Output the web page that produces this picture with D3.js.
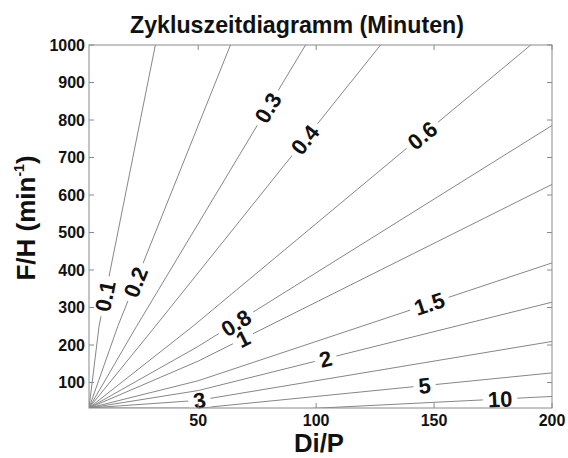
<!DOCTYPE html>
<html>
<head>
<meta charset="utf-8">
<script src="https://cdn.jsdelivr.net/npm/d3@7/dist/d3.min.js"></script>
<style>
  html, body { margin: 0; padding: 0; background: #fff; }
  svg { display: block; font-family: "Liberation Sans", Arial, Helvetica, sans-serif; }
</style>
</head>
<body>
<svg id="chart" width="568" height="458"></svg>
<script>
// Cycle time t = π · (Di/P) / (F/H), drawn as iso-lines of constant t
const levels = [0.1, 0.2, 0.3, 0.4, 0.6, 0.8, 1, 1.5, 2, 3, 5, 10];
const levelLabels = ["0.1", "0.2", "0.3", "0.4", "0.6", "0.8", "1", "1.5", "2", "3", "5", "10"];
// Di/P value at which each level's inline label sits
const labelAtX = [10.5, 23.4, 79.5, 95.2, 145, 66, 69, 148, 104, 50.5, 146, 178];

const xTicks = [50, 100, 150, 200];
const yTicks = [100, 200, 300, 400, 500, 600, 700, 800, 900, 1000];
const xDomain = [3.7, 200];
const yDomain = [32, 1000];

const title = "Zykluszeitdiagramm (Minuten)";
const xLabel = "Di/P";

const svg = d3.select("#chart");
const plotL = 89, plotR = 552, plotT = 45, plotB = 408;

const x = d3.scaleLinear().domain(xDomain).range([plotL, plotR]);
const y = d3.scaleLinear().domain(yDomain).range([plotB, plotT]);
const cycleY = (xv, t) => Math.PI * xv / t;
const cycleX = (yv, t) => t * yv / Math.PI;

const defs = svg.append("defs");
defs.append("clipPath").attr("id", "plotClip")
  .append("rect").attr("x", plotL).attr("y", plotT)
  .attr("width", plotR - plotL).attr("height", plotB - plotT);

const mask = defs.append("mask").attr("id", "labelGaps")
  .attr("maskUnits", "userSpaceOnUse")
  .attr("x", 0).attr("y", 0).attr("width", 568).attr("height", 458);
mask.append("rect").attr("x", 0).attr("y", 0).attr("width", 568).attr("height", 458).attr("fill", "#fff");

// Each iso-line: from the grid's first node, through the fan, out to the frame edge
function isoPoints(t) {
  const yAtRight = cycleY(xDomain[1], t);
  const end = yAtRight > yDomain[1] ? [cycleX(yDomain[1], t), yDomain[1]] : [xDomain[1], yAtRight];
  const bend = [end[0] * 0.25, end[1] * 0.25];
  return [[xDomain[0], yDomain[0]], bend, end];
}

const line = d3.line().x(d => x(d[0])).y(d => y(d[1]));
const lineG = svg.append("g").attr("clip-path", "url(#plotClip)")
  .append("g").attr("mask", "url(#labelGaps)");
lineG.selectAll("path").data(levels).join("path")
  .attr("d", t => line(isoPoints(t)))
  .attr("fill", "none")
  .attr("stroke", "#868686")
  .attr("stroke-width", 1);

// Inline labels rotated along their line
const labelData = levels.map((t, i) => {
  const x0 = x(0), y0 = y(0);
  const x1 = x(xDomain[1]), y1 = y(cycleY(xDomain[1], t));
  const ang = Math.atan2(y1 - y0, x1 - x0) * 180 / Math.PI;
  const lx = labelAtX[i];
  return { t, text: levelLabels[i], px: x(lx), py: y(cycleY(lx, t)), ang };
});

const labels = svg.append("g").selectAll("text").data(labelData).join("text")
  .attr("transform", d => `translate(${d.px},${d.py}) rotate(${d.ang})`)
  .attr("text-anchor", "middle")
  .attr("dy", "0.36em")
  .attr("font-size", 22)
  .attr("font-weight", "bold")
  .attr("fill", "#111")
  .text(d => d.text);

labels.each(function(d) {
  const w = this.getComputedTextLength();
  mask.append("rect")
    .attr("transform", `translate(${d.px},${d.py}) rotate(${d.ang})`)
    .attr("x", -w / 2 - 5).attr("y", -8)
    .attr("width", w + 10).attr("height", 16)
    .attr("fill", "#000");
});

// Box and inward ticks
const axisColor = "#8a8a8a";
const tickLen = 5;
svg.append("rect").attr("x", plotL).attr("y", plotT)
  .attr("width", plotR - plotL).attr("height", plotB - plotT)
  .attr("fill", "none").attr("stroke", axisColor).attr("stroke-width", 1);

const tickG = svg.append("g").attr("stroke", axisColor).attr("stroke-width", 1);
xTicks.forEach(v => {
  tickG.append("line").attr("x1", x(v)).attr("x2", x(v)).attr("y1", plotB).attr("y2", plotB - tickLen);
  tickG.append("line").attr("x1", x(v)).attr("x2", x(v)).attr("y1", plotT).attr("y2", plotT + tickLen);
});
yTicks.forEach(v => {
  tickG.append("line").attr("x1", plotL).attr("x2", plotL + tickLen).attr("y1", y(v)).attr("y2", y(v));
  tickG.append("line").attr("x1", plotR).attr("x2", plotR - tickLen).attr("y1", y(v)).attr("y2", y(v));
});

// Tick labels
svg.append("g").selectAll("text").data(xTicks).join("text")
  .attr("x", d => x(d)).attr("y", plotB + 18)
  .attr("text-anchor", "middle")
  .attr("font-size", 16).attr("font-weight", "bold").attr("fill", "#111")
  .text(d => d);

svg.append("g").selectAll("text").data(yTicks).join("text")
  .attr("x", plotL - 4).attr("y", d => y(d)).attr("dy", "0.36em")
  .attr("text-anchor", "end")
  .attr("font-size", 16).attr("font-weight", "bold").attr("fill", "#111")
  .text(d => d);

// Title and axis titles
svg.append("text").attr("x", 297).attr("y", 33)
  .attr("text-anchor", "middle")
  .attr("font-size", 24).attr("font-weight", "bold").attr("fill", "#111")
  .attr("textLength", 334).attr("lengthAdjust", "spacingAndGlyphs")
  .text(title);

svg.append("text").attr("x", 319).attr("y", 452)
  .attr("text-anchor", "middle")
  .attr("font-size", 25).attr("font-weight", "bold").attr("fill", "#111")
  .attr("textLength", 50).attr("lengthAdjust", "spacingAndGlyphs")
  .text(xLabel);

const yl = svg.append("text")
  .attr("transform", "translate(35,218) rotate(-90)")
  .attr("text-anchor", "middle")
  .attr("font-size", 26).attr("font-weight", "bold").attr("fill", "#111");
yl.append("tspan").text("F/H (min");
yl.append("tspan").attr("font-size", 14).attr("dy", -11).text("-1");
yl.append("tspan").attr("dy", 11).text(")");
</script>
</body>
</html>
